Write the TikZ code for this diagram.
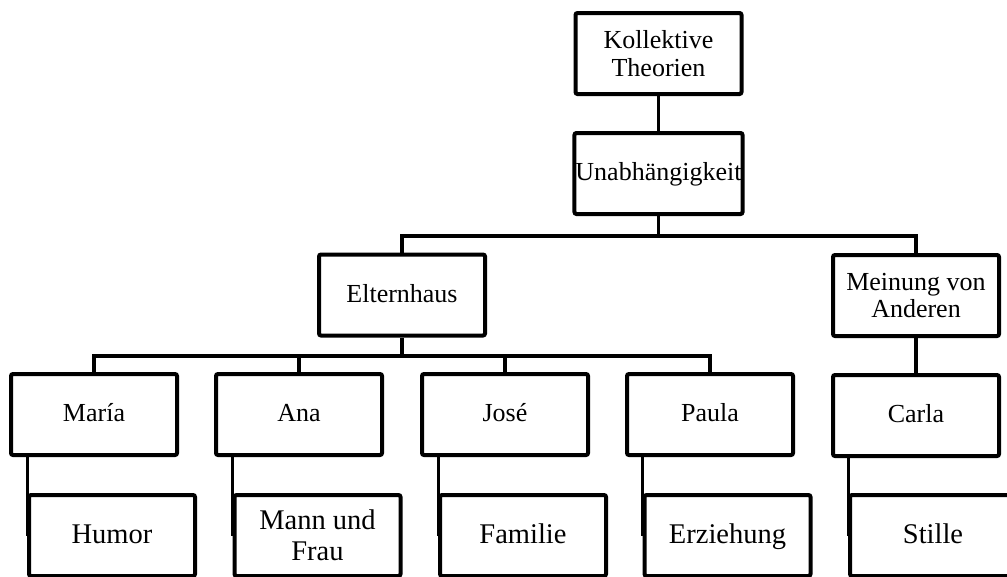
\documentclass[tikz,border=0pt]{standalone}
\usepackage{fontspec}
\setmainfont{Liberation Serif}
\begin{document}
\begin{tikzpicture}[x=1pt,y=-1pt,
  box/.style={draw=black, line width=4pt, rounded corners=2pt, fill=white,
    minimum width=166pt, minimum height=81pt, inner sep=1pt, align=center,
    font=\fontsize{26}{27.5}\selectfont},
  one/.style={text height=18pt, text depth=4pt},
  low/.style={font=\fontsize{28.5}{31}\selectfont},
  lowone/.style={low, text height=20pt, text depth=4pt},
  conn/.style={draw=black, line width=3.5pt},
  sub/.style={draw=black, line width=3pt}]
\useasboundingbox (0,0) rectangle (1007,576);
\begin{scope}
\clip (0,0) rectangle (1007,576);
\coordinate (h1) at (0,236);
\coordinate (h2) at (0,356);
\node[box] (K) at (658.5,53.5) {Kollektive\\Theorien};
\node[box,one] (U) at (658.5,173.5) {Unabhängigkeit};
\node[box,one] (E) at (402,295) {Elternhaus};
\node[box] (M) at (916,295.5) {Meinung von\\Anderen};
\node[box,one] (Ma) at (94,414.5) {María};
\node[box,one] (An) at (299,414.5) {Ana};
\node[box,one] (Jo) at (505,414.5) {José};
\node[box,one] (Pa) at (710,414.5) {Paula};
\node[box,one] (Ca) at (916,415.5) {Carla};
\node[box,lowone] (Hu) at (112,535.5) {Humor};
\node[box,low] (MF) at (317.5,535.5) {Mann und\\Frau};
\node[box,lowone] (Fa) at (523,535.5) {Familie};
\node[box,lowone] (Er) at (727.5,535.5) {Erziehung};
\node[box,lowone] (St) at (933,535.5) {Stille};
\draw[conn] (K.south) -- (U.north);
\draw[conn] (U.south) -- (U.south |- h1);
\draw[conn] (E.north) -- (E.north |- h1) -- (M.north |- h1) -- (M.north);
\draw[conn] (E.south) -- (E.south |- h2);
\draw[conn] (Ma.north) -- (Ma.north |- h2) -- (Pa.north |- h2) -- (Pa.north);
\draw[conn] (An.north) -- (An.north |- h2);
\draw[conn] (Jo.north) -- (Jo.north |- h2);
\draw[conn] (M.south) -- (Ca.north);
\draw[sub] (Hu.west |- Ma.south) -- (Hu.west);
\draw[sub] (MF.west |- An.south) -- (MF.west);
\draw[sub] (Fa.west |- Jo.south) -- (Fa.west);
\draw[sub] (Er.west |- Pa.south) -- (Er.west);
\draw[sub] (St.west |- Ca.south) -- (St.west);
\end{scope}
\end{tikzpicture}
\end{document}
